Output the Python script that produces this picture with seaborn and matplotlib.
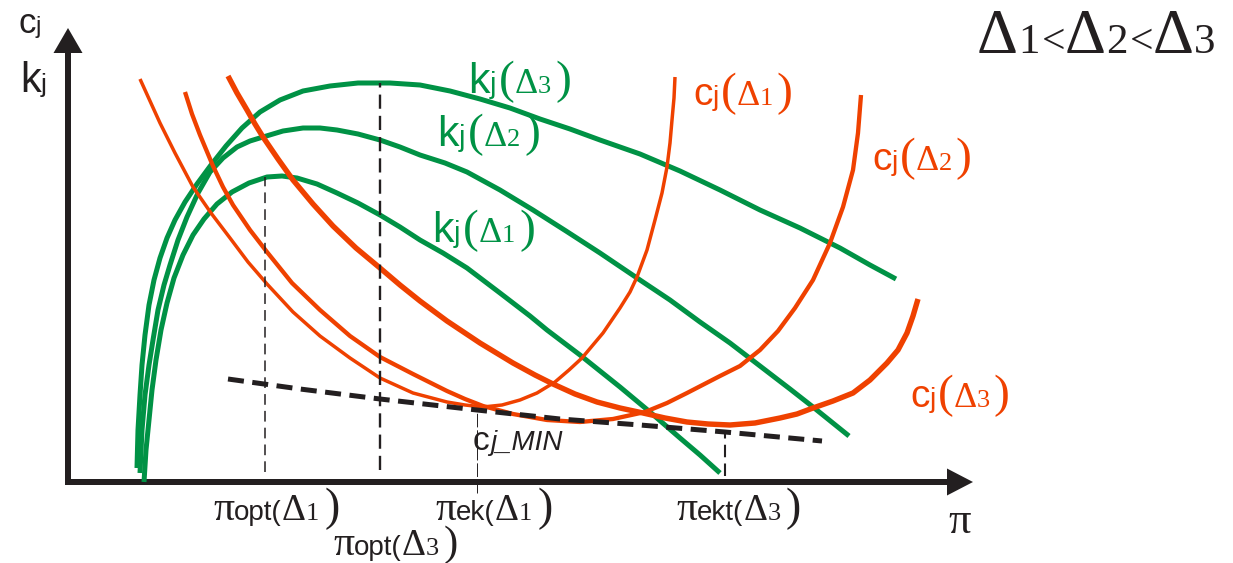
import matplotlib
matplotlib.use("Agg")
import matplotlib.pyplot as plt
import matplotlib.transforms as mtransforms
import seaborn as sns

# colours
GREEN = "#009245"
ORANGE = "#EF4100"
BLACK = "#231F20"
SANS = "Liberation Sans"
SERIF = "Liberation Serif"

# k_j(Delta) curves, pi on x, value on y
k1_x = [0.76, 0.78, 0.81, 0.84, 0.88, 0.93, 0.99, 1.06, 1.15, 1.25, 1.36, 1.49, 1.64, 1.81, 1.99, 2.14, 2.29,
        2.49, 2.69, 2.90, 3.12, 3.32, 3.52, 3.75, 3.99, 4.32, 4.62, 4.79, 5.12, 5.52, 5.82, 6.12, 6.32, 6.52]
k1_y = [0.00, 0.32, 0.62, 0.92, 1.22, 1.52, 1.79, 2.04, 2.27, 2.47, 2.63, 2.78, 2.90, 2.99, 3.05, 3.06, 3.04,
        2.98, 2.89, 2.79, 2.67, 2.55, 2.42, 2.29, 2.14, 1.89, 1.66, 1.52, 1.27, 0.95, 0.70, 0.44, 0.27, 0.09]

k2_x = [0.72, 0.74, 0.77, 0.81, 0.85, 0.90, 0.96, 1.02, 1.10, 1.19, 1.30, 1.42, 1.55, 1.69, 1.82, 1.95, 2.15,
        2.35, 2.52, 2.69, 2.90, 3.12, 3.32, 3.52, 3.77, 3.99, 4.32, 4.65, 4.98, 5.32, 5.72, 6.02, 6.32, 6.62,
        6.92, 7.22, 7.45, 7.81]
k2_y = [0.09, 0.52, 0.87, 1.17, 1.42, 1.72, 1.97, 2.17, 2.42, 2.65, 2.89, 3.10, 3.24, 3.35, 3.41, 3.45, 3.51,
        3.54, 3.54, 3.52, 3.48, 3.42, 3.35, 3.27, 3.19, 3.10, 2.92, 2.72, 2.51, 2.29, 2.02, 1.82, 1.60, 1.39,
        1.16, 0.93, 0.75, 0.46]

k3_x = [0.69, 0.70, 0.72, 0.74, 0.77, 0.81, 0.86, 0.92, 0.99, 1.07, 1.17, 1.29, 1.43, 1.58, 1.74, 1.92, 2.12,
        2.35, 2.62, 2.90, 3.22, 3.52, 3.82, 4.12, 4.42, 4.72, 5.02, 5.32, 5.72, 6.12, 6.52, 6.92, 7.32, 7.72,
        8.02, 8.28]
k3_y = [0.14, 0.52, 0.87, 1.17, 1.47, 1.77, 2.02, 2.24, 2.44, 2.62, 2.80, 2.98, 3.17, 3.36, 3.54, 3.70, 3.82,
        3.91, 3.96, 3.99, 3.99, 3.97, 3.91, 3.83, 3.74, 3.63, 3.53, 3.42, 3.28, 3.11, 2.92, 2.72, 2.54, 2.34,
        2.17, 2.03]

# c_j(Delta) curves
c1_x = [0.72, 0.82, 0.92, 1.07, 1.25, 1.43, 1.62, 1.80, 1.99, 2.25, 2.52, 2.82, 3.12, 3.45, 3.79, 3.97, 4.15,
        4.34, 4.52, 4.69, 4.87, 5.01, 5.14, 5.35, 5.52, 5.62, 5.69, 5.79, 5.87, 5.94, 5.99, 6.02, 6.04, 6.06,
        6.07]
c1_y = [4.03, 3.81, 3.59, 3.29, 2.95, 2.69, 2.44, 2.20, 1.98, 1.70, 1.46, 1.24, 1.04, 0.89, 0.80, 0.77, 0.75,
        0.77, 0.82, 0.89, 1.00, 1.12, 1.24, 1.49, 1.74, 1.90, 2.05, 2.32, 2.62, 2.89, 3.15, 3.39, 3.62, 3.84,
        4.05]

c2_x = [1.17, 1.24, 1.32, 1.45, 1.55, 1.65, 1.82, 1.99, 2.24, 2.52, 2.82, 3.12, 3.45, 3.79, 3.97, 4.15, 4.45,
        4.79, 5.12, 5.45, 5.77, 5.99, 6.19, 6.52, 6.72, 6.92, 7.10, 7.27, 7.45, 7.62, 7.75, 7.85, 7.90, 7.93]
c2_y = [3.90, 3.68, 3.47, 3.16, 2.95, 2.77, 2.52, 2.30, 1.99, 1.72, 1.46, 1.25, 1.08, 0.91, 0.83, 0.76, 0.68,
        0.62, 0.60, 0.63, 0.70, 0.79, 0.89, 1.06, 1.16, 1.32, 1.51, 1.74, 2.02, 2.39, 2.75, 3.12, 3.49, 3.87]

c3_x = [1.60, 1.69, 1.79, 1.87, 1.95, 2.10, 2.25, 2.45, 2.65, 2.88, 3.12, 3.32, 3.52, 3.79, 4.12, 4.45, 4.67,
        4.85, 5.07, 5.29, 5.52, 5.75, 5.97, 6.19, 6.40, 6.62, 6.87, 7.12, 7.29, 7.45, 7.65, 7.85, 8.02, 8.19,
        8.30, 8.39, 8.45, 8.50]
c3_y = [4.06, 3.89, 3.72, 3.58, 3.45, 3.23, 3.02, 2.78, 2.56, 2.34, 2.14, 1.97, 1.81, 1.61, 1.39, 1.19, 1.07,
        0.98, 0.88, 0.80, 0.74, 0.69, 0.64, 0.60, 0.58, 0.57, 0.59, 0.64, 0.68, 0.74, 0.81, 0.89, 1.02, 1.19,
        1.32, 1.49, 1.66, 1.83]

# envelope of the c_j minima (dashed)
env_x = [1.60, 2.32, 3.12, 4.09, 4.92, 5.72, 6.57, 7.54]
env_y = [1.03, 0.93, 0.83, 0.72, 0.63, 0.57, 0.50, 0.41]

# vertical guides: pi_opt(D1), pi_opt(D3), pi_ek(D1), pi_ekt(D3)
guide_x = [1.97, 3.12, 4.09, 6.57]
guide_top = [3.05, 3.99, 0.72, 0.50]
guide_bottom = [0.10, 0.12, -0.11, 0.06]


def rich_label(ax, x, y, pieces, color):
    """Draws text pieces one after the other on a common baseline."""
    renderer = ax.figure.canvas.get_renderer()
    px, py = ax.transData.transform((x, y))
    for txt, fam, size, style, gap in pieces:
        t = ax.text(px, py, txt, transform=mtransforms.IdentityTransform(), fontfamily=fam,
                    fontsize=size, fontstyle=style, color=color, ha="left", va="baseline")
        px += t.get_window_extent(renderer).width + gap


def k_label(sub):
    return [("k", SANS, 31, "normal", 0), ("j", SANS, 21, "normal", 3), ("(", SERIF, 34, "normal", 0),
            ("\u0394", SERIF, 26, "normal", 0), (sub, SERIF, 19, "normal", 4), (")", SERIF, 34, "normal", 0)]


def c_label(sub):
    return [("c", SANS, 28, "normal", 0), ("j", SANS, 20, "normal", 2), ("(", SERIF, 34, "normal", 0),
            ("\u0394", SERIF, 26, "normal", 0), (sub, SERIF, 19, "normal", 4), (")", SERIF, 34, "normal", 0)]


def pi_label(idx, sub, paren=33):
    return [("\u03c0", SERIF, 30, "normal", 0), (idx + "(", SANS, 20, "normal", 0),
            ("\u0394", SERIF, 27, "normal", 0), (sub, SERIF, 19, "normal", 5), (")", SERIF, paren, "normal", 0)]


sns.set_style("white")
plt.rcParams["lines.solid_capstyle"] = "butt"
plt.rcParams["lines.dash_capstyle"] = "butt"
plt.rcParams["lines.solid_joinstyle"] = "round"

fig = plt.figure(figsize=(12.33, 5.63), dpi=100)
ax = fig.add_axes([0, 0, 1, 1])
ax.set_xlim(-0.68, 11.65)
ax.set_ylim(-0.81, 4.82)
ax.axis("off")

for xs, ys in [(k1_x, k1_y), (k2_x, k2_y), (k3_x, k3_y)]:
    sns.lineplot(x=xs, y=ys, ax=ax, color=GREEN, lw=3.6, sort=False, estimator=None)

for xs, ys, w in [(c1_x, c1_y, 2.5), (c2_x, c2_y, 3.1), (c3_x, c3_y, 3.9)]:
    sns.lineplot(x=xs, y=ys, ax=ax, color=ORANGE, lw=w, sort=False, estimator=None)

sns.lineplot(x=env_x, y=env_y, ax=ax, color=BLACK, lw=3.6, sort=False, estimator=None)
ax.lines[-1].set_dashes([3.2, 1.7])

guide_styles = [(1.1, [7, 4]), (1.7, [6, 3]), (0.7, [14, 3]), (1.5, [6, 3])]
for gx, gt, gb, (w, d) in zip(guide_x, guide_top, guide_bottom, guide_styles):
    ln, = ax.plot([gx, gx], [gb, gt], color=BLACK, lw=w)
    ln.set_dashes(d)

# axes with arrow heads
ax.arrow(0, -0.03, 0, 4.57, width=0.06, head_width=0.29, head_length=0.25,
         length_includes_head=True, fc=BLACK, ec="none")
ax.arrow(-0.03, 0.0, 9.08, 0, width=0.06, head_width=0.27, head_length=0.26,
         length_includes_head=True, fc=BLACK, ec="none")

fig.canvas.draw()

rich_label(ax, -0.50, 4.49, [("c", SANS, 25, "normal", 0), ("j", SANS, 17, "normal", 0)], BLACK)
rich_label(ax, -0.48, 3.90, [("k", SANS, 30, "normal", 0), ("j", SANS, 19, "normal", 0)], BLACK)

rich_label(ax, 4.00, 3.89, k_label("3"), GREEN)
rich_label(ax, 3.69, 3.36, k_label("2"), GREEN)
rich_label(ax, 3.64, 2.40, k_label("1"), GREEN)

rich_label(ax, 6.25, 3.77, c_label("1"), ORANGE)
rich_label(ax, 8.04, 3.12, c_label("2"), ORANGE)
rich_label(ax, 8.42, 0.75, c_label("3"), ORANGE)

rich_label(ax, 9.09, 4.29, [("\u0394", SERIF, 46, "normal", 0), ("1", SERIF, 31, "normal", 2),
                            ("<", SERIF, 30, "normal", 0),
                            ("\u0394", SERIF, 46, "normal", 0), ("2", SERIF, 31, "normal", 2),
                            ("<", SERIF, 30, "normal", 0),
                            ("\u0394", SERIF, 46, "normal", 0), ("3", SERIF, 31, "normal", 0)], BLACK)

rich_label(ax, 4.05, 0.32, [("c", SANS, 24, "normal", 0), ("j_MIN", SANS, 20, "italic", 0)], BLACK)

rich_label(ax, 1.45, -0.38, pi_label("opt", "1"), BLACK)
rich_label(ax, 2.65, -0.73, pi_label("opt", "3", 31), BLACK)
rich_label(ax, 3.67, -0.38, pi_label("ek", "1"), BLACK)
rich_label(ax, 6.08, -0.38, pi_label("ekt", "3"), BLACK)
rich_label(ax, 8.80, -0.51, [("\u03c0", SERIF, 32, "normal", 0)], BLACK)

fig.savefig("out.png", dpi=100)
